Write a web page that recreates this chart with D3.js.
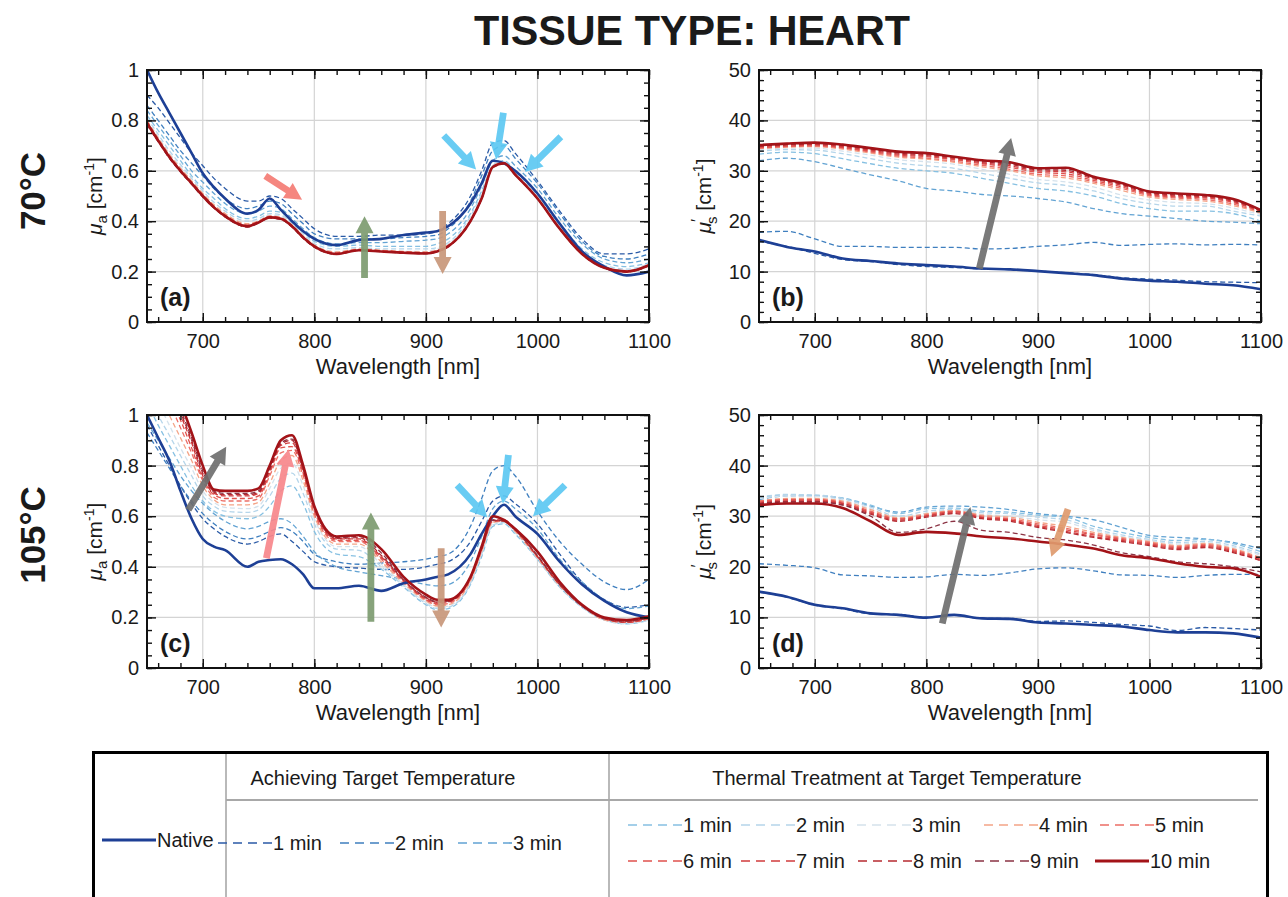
<!DOCTYPE html>
<html><head><meta charset="utf-8">
<script src="https://cdn.jsdelivr.net/npm/d3@7"></script>
<style>
body{margin:0;background:#fff;}
text{font-family:"Liberation Sans",Arial,Helvetica,sans-serif;fill:#1a1a1a;}
</style></head><body>
<script>
// ---------------- DATA ----------------
const wlAbs = [650,660,670,680,690,700,710,720,740,750,760,770,780,790,800,820,840,860,880,900,910,920,940,950,960,970,980,1000,1020,1040,1060,1080,1100];
const wlSca = [650,675,700,725,750,775,800,825,850,875,900,925,950,975,1000,1025,1050,1075,1100];
const xMajorTicks = [700,800,900,1000,1100];
const absTicks = [0,0.2,0.4,0.6,0.8,1];
const scaTicks = [0,10,20,30,40,50];
const seriesKeys = ["native","a1","a2","a3","t1","t2","t3","t4","t5","t6","t7","t8","t9","t10"];
const seriesColors = ["#1d3f95","#2a5aa6","#3f7fbf","#62a3d3","#86c0e2","#b5d5ea","#d5e2ec","#f4a487","#ec6e66","#e0524e","#d13b3d","#b62a31","#8b3344","#a31318"];
const legendAchieving = ["1 min","2 min","3 min"];
const legendThermal = ["1 min","2 min","3 min","4 min","5 min","6 min","7 min","8 min","9 min","10 min"];

// Panel (a) 70°C absorption  (rows follow seriesKeys)
const muA70 = [
 [1.00,0.91,0.83,0.75,0.67,0.59,0.535,0.49,0.43,0.445,0.49,0.445,0.40,0.36,0.33,0.305,0.325,0.33,0.345,0.355,0.36,0.38,0.47,0.55,0.64,0.63,0.60,0.51,0.39,0.28,0.22,0.185,0.20],
 [0.90,0.85,0.79,0.73,0.67,0.62,0.57,0.53,0.48,0.48,0.50,0.49,0.45,0.41,0.37,0.34,0.34,0.345,0.345,0.35,0.36,0.39,0.50,0.60,0.71,0.72,0.67,0.56,0.44,0.33,0.27,0.27,0.29],
 [0.86,0.80,0.74,0.68,0.63,0.58,0.53,0.49,0.45,0.46,0.48,0.47,0.43,0.39,0.35,0.33,0.33,0.33,0.335,0.34,0.345,0.37,0.48,0.58,0.68,0.70,0.65,0.55,0.43,0.32,0.26,0.25,0.27],
 [0.84,0.78,0.72,0.66,0.60,0.555,0.51,0.47,0.43,0.44,0.46,0.45,0.41,0.37,0.335,0.31,0.315,0.315,0.32,0.325,0.33,0.35,0.45,0.54,0.64,0.66,0.62,0.53,0.41,0.31,0.25,0.235,0.25],
 [0.82,0.76,0.70,0.64,0.58,0.53,0.49,0.45,0.41,0.42,0.44,0.435,0.40,0.36,0.32,0.30,0.305,0.30,0.30,0.30,0.31,0.33,0.43,0.52,0.62,0.64,0.60,0.51,0.39,0.29,0.235,0.22,0.235],
 [0.81,0.745,0.68,0.625,0.57,0.52,0.475,0.44,0.40,0.41,0.43,0.425,0.39,0.35,0.31,0.29,0.295,0.29,0.29,0.29,0.295,0.315,0.42,0.51,0.62,0.635,0.595,0.50,0.38,0.28,0.225,0.21,0.23],
 [0.80,0.735,0.67,0.615,0.56,0.51,0.465,0.43,0.39,0.40,0.425,0.42,0.385,0.345,0.305,0.28,0.29,0.285,0.28,0.28,0.29,0.31,0.41,0.50,0.62,0.635,0.59,0.495,0.375,0.275,0.22,0.205,0.228],
 [0.80,0.73,0.665,0.61,0.56,0.51,0.465,0.43,0.39,0.40,0.42,0.415,0.385,0.34,0.305,0.278,0.29,0.285,0.28,0.278,0.285,0.305,0.405,0.495,0.62,0.632,0.588,0.493,0.373,0.273,0.218,0.203,0.228],
 [0.795,0.725,0.66,0.605,0.555,0.505,0.46,0.425,0.385,0.40,0.42,0.413,0.383,0.338,0.303,0.275,0.288,0.283,0.278,0.276,0.283,0.303,0.403,0.493,0.618,0.63,0.587,0.492,0.372,0.272,0.217,0.202,0.227],
 [0.79,0.722,0.657,0.602,0.552,0.503,0.458,0.423,0.383,0.398,0.418,0.412,0.382,0.337,0.302,0.273,0.287,0.282,0.277,0.274,0.282,0.302,0.402,0.492,0.617,0.63,0.586,0.491,0.371,0.271,0.216,0.201,0.226],
 [0.788,0.72,0.655,0.60,0.55,0.50,0.456,0.42,0.38,0.396,0.416,0.41,0.38,0.335,0.30,0.271,0.286,0.281,0.276,0.273,0.281,0.301,0.401,0.49,0.616,0.63,0.585,0.49,0.37,0.27,0.215,0.20,0.225],
 [0.785,0.718,0.652,0.598,0.548,0.498,0.454,0.418,0.378,0.394,0.414,0.408,0.378,0.333,0.298,0.27,0.285,0.28,0.275,0.272,0.28,0.30,0.40,0.49,0.615,0.628,0.584,0.489,0.369,0.269,0.214,0.199,0.224],
 [0.783,0.716,0.65,0.596,0.546,0.496,0.452,0.417,0.377,0.393,0.413,0.407,0.377,0.332,0.297,0.269,0.284,0.279,0.274,0.271,0.279,0.299,0.399,0.489,0.614,0.628,0.584,0.489,0.369,0.269,0.214,0.199,0.224],
 [0.79,0.72,0.655,0.60,0.55,0.50,0.455,0.42,0.38,0.395,0.415,0.41,0.38,0.335,0.30,0.27,0.285,0.28,0.275,0.272,0.28,0.30,0.40,0.49,0.615,0.63,0.585,0.49,0.37,0.27,0.215,0.20,0.225]
];
// Panel (b) 70°C reduced scattering
const musB70 = [
 [16.3,14.9,14.0,12.6,12.1,11.6,11.3,11.0,10.6,10.45,10.1,9.7,9.3,8.6,8.2,8.0,7.6,7.3,6.5],
 [16.0,15.0,13.6,12.4,12.0,11.4,11.0,10.8,10.5,10.4,10.1,9.8,9.4,8.8,8.5,8.3,8.0,7.9,7.8],
 [17.8,18.0,16.5,15.0,15.0,14.8,14.8,14.8,14.5,14.6,15.0,15.3,15.8,15.2,15.4,15.5,15.3,15.4,15.3],
 [32.0,32.5,31.8,30.5,29.2,28.0,26.5,26.0,25.3,25.0,24.5,23.8,22.5,21.5,21.0,20.5,20.0,19.8,19.5],
 [33.3,33.7,33.4,32.4,31.4,30.5,30.0,29.5,28.5,27.5,26.5,26.0,25.0,23.5,22.5,22.0,22.0,21.5,20.0],
 [33.9,34.2,34.1,33.4,32.4,31.5,31.0,30.5,29.5,28.5,27.6,27.1,26.0,24.5,23.5,23.0,23.0,22.0,21.0],
 [34.2,34.5,34.5,33.9,33.1,32.2,31.8,31.3,30.3,29.3,28.3,27.8,26.8,25.2,24.2,23.7,23.5,22.6,21.3],
 [34.4,34.7,34.8,34.3,33.5,32.7,32.3,31.7,30.8,30.0,29.0,28.6,27.5,26.1,24.8,24.3,24.0,23.1,21.6],
 [34.5,34.8,34.9,34.5,33.7,32.9,32.5,31.9,31.1,30.3,29.3,29.0,27.8,26.5,25.1,24.6,24.3,23.4,21.8],
 [34.6,34.9,35.1,34.6,33.9,33.1,32.8,32.2,31.4,30.7,29.7,29.4,28.1,26.8,25.3,24.8,24.6,23.7,21.9],
 [34.8,35.1,35.2,34.8,34.1,33.3,33.0,32.4,31.6,31.0,30.0,29.8,28.4,27.1,25.5,25.0,24.8,23.9,22.0],
 [34.9,35.2,35.4,35.0,34.3,33.5,33.2,32.6,31.8,31.3,30.2,30.1,28.6,27.3,25.7,25.2,25.0,24.1,22.1],
 [35.0,35.3,35.5,35.1,34.4,33.7,33.4,32.7,32.0,31.5,30.4,30.4,28.7,27.5,25.8,25.4,25.1,24.3,22.1],
 [35.1,35.4,35.6,35.2,34.5,33.8,33.5,32.8,32.1,31.7,30.5,30.6,28.8,27.6,25.9,25.5,25.2,24.4,22.2]
];
// Panel (c) 105°C absorption
const muA105 = [
 [1.00,0.91,0.82,0.70,0.59,0.51,0.48,0.466,0.40,0.42,0.427,0.43,0.41,0.37,0.315,0.315,0.325,0.305,0.335,0.35,0.36,0.37,0.45,0.53,0.60,0.645,0.60,0.53,0.42,0.33,0.265,0.22,0.20],
 [0.96,0.88,0.80,0.72,0.65,0.59,0.55,0.52,0.49,0.50,0.52,0.53,0.50,0.46,0.42,0.40,0.395,0.39,0.39,0.40,0.41,0.42,0.50,0.58,0.66,0.68,0.65,0.57,0.45,0.34,0.27,0.24,0.25],
 [0.93,0.86,0.79,0.72,0.66,0.61,0.57,0.54,0.51,0.52,0.54,0.555,0.54,0.50,0.45,0.42,0.41,0.415,0.42,0.43,0.44,0.45,0.56,0.67,0.78,0.80,0.76,0.62,0.50,0.41,0.34,0.31,0.35],
 [0.97,0.90,0.83,0.76,0.70,0.65,0.61,0.58,0.55,0.56,0.58,0.59,0.57,0.52,0.46,0.40,0.38,0.365,0.35,0.33,0.325,0.33,0.42,0.52,0.63,0.66,0.63,0.55,0.43,0.34,0.27,0.235,0.245],
 [1.05,0.96,0.88,0.80,0.72,0.66,0.62,0.60,0.59,0.60,0.64,0.70,0.72,0.65,0.54,0.45,0.44,0.39,0.32,0.25,0.23,0.235,0.33,0.44,0.56,0.57,0.53,0.43,0.32,0.24,0.19,0.175,0.19],
 [1.10,1.00,0.92,0.84,0.76,0.68,0.64,0.62,0.615,0.625,0.68,0.75,0.77,0.69,0.57,0.47,0.465,0.40,0.325,0.255,0.235,0.24,0.335,0.45,0.565,0.575,0.535,0.43,0.32,0.24,0.19,0.175,0.19],
 [1.15,1.05,0.96,0.87,0.79,0.70,0.655,0.635,0.63,0.64,0.71,0.79,0.81,0.72,0.59,0.48,0.48,0.41,0.33,0.26,0.24,0.245,0.34,0.455,0.57,0.58,0.54,0.435,0.325,0.245,0.19,0.175,0.19],
 [1.20,1.10,1.00,0.91,0.82,0.72,0.665,0.645,0.645,0.655,0.73,0.82,0.84,0.74,0.60,0.49,0.49,0.42,0.335,0.265,0.245,0.25,0.345,0.46,0.575,0.58,0.54,0.435,0.325,0.245,0.19,0.18,0.195],
 [1.25,1.15,1.05,0.95,0.85,0.74,0.675,0.66,0.66,0.67,0.76,0.85,0.86,0.76,0.61,0.50,0.50,0.43,0.34,0.27,0.25,0.255,0.35,0.465,0.58,0.58,0.545,0.44,0.33,0.245,0.195,0.18,0.195],
 [1.28,1.18,1.08,0.98,0.87,0.75,0.685,0.67,0.67,0.68,0.77,0.87,0.875,0.77,0.62,0.505,0.505,0.435,0.345,0.27,0.255,0.26,0.355,0.47,0.58,0.585,0.545,0.44,0.33,0.245,0.195,0.18,0.195],
 [1.30,1.20,1.10,1.00,0.89,0.76,0.69,0.68,0.68,0.69,0.78,0.88,0.89,0.78,0.63,0.51,0.51,0.44,0.345,0.275,0.26,0.265,0.36,0.47,0.585,0.585,0.55,0.44,0.33,0.25,0.195,0.185,0.20],
 [1.31,1.21,1.11,1.01,0.90,0.77,0.695,0.685,0.685,0.695,0.785,0.885,0.90,0.785,0.632,0.512,0.515,0.445,0.348,0.278,0.26,0.262,0.358,0.472,0.583,0.582,0.548,0.442,0.33,0.245,0.195,0.182,0.20],
 [1.32,1.22,1.12,1.02,0.91,0.78,0.70,0.69,0.69,0.70,0.79,0.89,0.905,0.79,0.635,0.515,0.52,0.455,0.35,0.28,0.262,0.265,0.36,0.475,0.585,0.58,0.545,0.445,0.33,0.245,0.195,0.185,0.20],
 [1.35,1.25,1.15,1.05,0.93,0.80,0.705,0.70,0.70,0.71,0.80,0.90,0.92,0.80,0.64,0.52,0.525,0.47,0.36,0.29,0.27,0.27,0.36,0.48,0.60,0.585,0.55,0.46,0.34,0.25,0.20,0.19,0.205]
];
// Panel (d) 105°C reduced scattering
const musB105 = [
 [15.1,14.1,12.5,11.8,10.8,10.5,9.95,10.5,9.8,9.7,9.0,8.8,8.5,8.2,7.5,7.05,7.05,6.85,6.0],
 [15.0,14.0,12.4,11.7,10.7,10.6,10.0,10.4,9.8,9.8,9.2,9.3,9.0,8.6,8.3,7.4,8.0,7.8,7.5],
 [20.6,20.3,19.8,18.4,18.2,17.9,18.0,18.5,18.3,18.8,19.6,19.8,19.2,18.4,18.3,17.9,18.3,18.5,18.5],
 [33.3,34.0,34.0,33.5,32.0,30.8,31.8,32.0,31.8,31.3,30.5,30.0,29.3,27.8,26.2,25.8,25.5,24.8,23.6],
 [33.6,34.2,34.1,33.6,32.2,30.5,31.5,31.6,31.0,30.8,30.2,29.8,28.0,26.8,25.8,25.2,25.4,24.6,23.0],
 [33.8,34.3,34.2,33.5,31.8,30.0,31.0,31.3,30.7,30.5,29.8,29.3,27.5,26.3,25.4,24.8,25.0,24.2,22.5],
 [33.5,34.0,33.9,33.2,31.5,29.6,30.6,31.0,30.4,30.0,29.3,28.8,27.2,26.0,25.2,24.5,24.7,23.9,22.2],
 [33.0,33.5,33.5,33.0,31.3,29.7,30.5,31.1,30.2,29.8,28.8,28.0,26.8,25.8,25.0,24.2,24.6,23.6,21.8],
 [33.0,33.3,33.3,32.8,31.0,29.5,30.3,31.0,30.0,29.5,28.5,27.6,26.5,25.6,24.8,24.0,24.4,23.4,21.6],
 [32.8,33.2,33.2,32.6,30.8,29.4,30.1,30.9,29.8,29.3,28.2,27.3,26.3,25.4,24.6,23.8,24.2,23.2,21.5],
 [32.6,33.0,33.0,32.5,30.6,29.2,30.0,30.7,29.7,29.2,28.0,27.0,26.0,25.2,24.4,23.6,24.0,23.0,21.3],
 [32.5,32.9,32.9,32.3,30.4,29.0,29.8,30.5,29.5,29.0,27.8,26.8,25.8,25.0,24.2,23.4,23.8,22.8,21.2],
 [32.4,32.8,32.8,32.2,30.0,26.8,27.5,29.0,27.2,26.8,25.8,25.3,24.3,22.8,22.0,21.0,20.6,20.0,19.0],
 [32.2,32.5,32.5,31.6,29.0,26.3,26.9,26.6,26.0,25.6,25.0,24.4,23.6,22.3,21.7,20.7,20.0,19.7,18.0]
];
// Annotation arrows: [x1, y1, x2, y2, colour] in data units
const arrowColors = {salmon:"#f47c74", pink:"#f7878b", green:"#7d9b70", brown:"#c8977a", cyan:"#5cc8f2", gray:"#6f6f6f", orange:"#de9a6e"};
const arrowsA = [[756,0.58,789,0.485,"salmon"],[845,0.175,845,0.42,"green"],[915,0.44,915,0.19,"brown"],[916,0.74,945,0.605,"cyan"],[969.5,0.83,963,0.645,"cyan"],[1021,0.735,989,0.595,"cyan"]];
const arrowsB = [[847.5,10.6,876,36.5,"gray"]];
const arrowsC = [[687,0.625,721,0.875,"gray"],[757,0.434,777,0.865,"pink"],[850.7,0.183,850.7,0.615,"green"],[913.7,0.473,913.7,0.16,"brown"],[928,0.723,955,0.595,"cyan"],[974,0.842,969,0.65,"cyan"],[1024.7,0.723,996,0.6,"cyan"]];
const arrowsD = [[814.3,8.8,839.5,31.8,"gray"],[927,31.4,912,22.0,"orange"]];

// ---------------- DRAW ----------------
const W = 1288, H = 897;
const svg = d3.select("body").append("svg").attr("width", W).attr("height", H);

svg.append("text").attr("x", 692).attr("y", 45).attr("text-anchor","middle")
  .attr("textLength", 436).attr("lengthAdjust","spacingAndGlyphs")
  .style("font-size","42px").style("font-weight","bold").text("TISSUE TYPE: HEART");
[["70°C",191],["105°C",535]].forEach(([t,yc]) => {
  svg.append("text").attr("transform",`translate(45,${yc}) rotate(-90)`).attr("text-anchor","middle")
    .style("font-size","35px").style("font-weight","bold").text(t);
});

const panels = [
  {tag:"(a)", box:[147,70,649,322], ymax:1, yticks:absTicks, yminor:0.05, wl:wlAbs, data:muA70, arrows:arrowsA, kind:"a"},
  {tag:"(b)", box:[759,70,1261,322], ymax:50, yticks:scaTicks, yminor:2, wl:wlSca, data:musB70, arrows:arrowsB, kind:"s"},
  {tag:"(c)", box:[147,415,649,668], ymax:1, yticks:absTicks, yminor:0.05, wl:wlAbs, data:muA105, arrows:arrowsC, kind:"a"},
  {tag:"(d)", box:[759,415,1261,668], ymax:50, yticks:scaTicks, yminor:2, wl:wlSca, data:musB105, arrows:arrowsD, kind:"s"}
];

panels.forEach((p, pi) => {
  const [x0,y0,x1,y1] = p.box;
  const x = d3.scaleLinear().domain([650,1100]).range([x0,x1]);
  const y = d3.scaleLinear().domain([0,p.ymax]).range([y1,y0]);
  const g = svg.append("g");
  const clipId = "clip"+pi;
  svg.append("clipPath").attr("id",clipId).append("rect").attr("x",x0).attr("y",y0).attr("width",x1-x0).attr("height",y1-y0);

  // grid
  g.append("g").selectAll("line").data(xMajorTicks.slice(0,4)).join("line")
    .attr("x1",d=>x(d)).attr("x2",d=>x(d)).attr("y1",y0).attr("y2",y1)
    .attr("stroke","#d4d4d4").attr("stroke-width",1.2);
  g.append("g").selectAll("line").data(p.yticks.slice(1,-1)).join("line")
    .attr("y1",d=>y(d)).attr("y2",d=>y(d)).attr("x1",x0).attr("x2",x1)
    .attr("stroke","#d4d4d4").attr("stroke-width",1.2);

  // lines
  const lines = g.append("g").attr("clip-path",`url(#${clipId})`);
  const line = d3.line().x((d,i)=>x(p.wl[i])).y(d=>y(d)).curve(d3.curveMonotoneX);
  const order = [1,2,3,4,5,6,7,8,9,10,11,12,0,13];
  order.forEach(k => {
    const solid = (k===0 || k===13);
    lines.append("path").attr("d", line(p.data[k])).attr("fill","none")
      .attr("stroke", seriesColors[k]).attr("stroke-width", solid?2.6:1.3)
      .attr("stroke-dasharray", solid?null:"5,3").attr("stroke-linejoin","round");
  });

  // axes (inward ticks on all sides)
  const minorX = d3.range(660,1101,20);
  const minorY = d3.range(0,p.ymax+1e-9,p.yminor);
  const fmtY = d3.format("~g");
  const ax = (axis, tx, ty) => {
    const a = g.append("g").attr("transform",`translate(${tx},${ty})`).call(axis);
    a.select(".domain").remove();
    a.selectAll("line").attr("stroke","#111").attr("stroke-width",1.4);
    return a;
  };
  ax(d3.axisBottom(x).tickValues(minorX).tickSize(-5).tickFormat(""),0,y1);
  ax(d3.axisTop(x).tickValues(minorX).tickSize(-5).tickFormat(""),0,y0);
  const xb = ax(d3.axisBottom(x).tickValues(xMajorTicks).tickSize(-9).tickPadding(12).tickFormat(d3.format("d")),0,y1);
  xb.selectAll("text").style("font-size","20px").attr("fill","#1a1a1a");
  ax(d3.axisTop(x).tickValues(xMajorTicks).tickSize(-9).tickFormat(""),0,y0);
  ax(d3.axisLeft(y).tickValues(minorY).tickSize(-5).tickFormat(""),x0,0);
  ax(d3.axisRight(y).tickValues(minorY).tickSize(-5).tickFormat(""),x1,0);
  const yl = ax(d3.axisLeft(y).tickValues(p.yticks).tickSize(-9).tickPadding(8).tickFormat(fmtY),x0,0);
  yl.selectAll("text").style("font-size","20px").attr("fill","#1a1a1a");
  ax(d3.axisRight(y).tickValues(p.yticks).tickSize(-9).tickFormat(""),x1,0);

  g.append("rect").attr("x",x0).attr("y",y0).attr("width",x1-x0).attr("height",y1-y0)
    .attr("fill","none").attr("stroke","#111").attr("stroke-width",2);

  // axis titles
  g.append("text").attr("x",(x0+x1)/2).attr("y",y1+52).attr("text-anchor","middle")
    .style("font-size","22px").text("Wavelength [nm]");
  const tx = p.kind==="a" ? x0-45 : x0-48;
  const t = g.append("text").attr("transform",`translate(${tx},${(y0+y1)/2}) rotate(-90)`)
    .attr("text-anchor","middle").style("font-size","21px");
  t.append("tspan").style("font-style","italic").text("μ");
  if (p.kind==="a") {
    t.append("tspan").attr("dy",5).style("font-size","15px").text("a");
    t.append("tspan").attr("dy",-5).text(" [cm");
  } else {
    t.append("tspan").attr("dy",-8).style("font-size","16px").text("′");
    t.append("tspan").attr("dx",-5).attr("dy",14).style("font-size","15px").text("s");
    t.append("tspan").attr("dy",-6).text(" [cm");
  }
  t.append("tspan").attr("dy",-8).style("font-size","14px").text("-1");
  t.append("tspan").attr("dy",8).text("]");

  g.append("text").attr("x",x0+13).attr("y",y1-16).style("font-size","25px").style("font-weight","bold").text(p.tag);

  // arrows
  p.arrows.forEach(a => {
    const X1=x(a[0]), Y1=y(a[1]), X2=x(a[2]), Y2=y(a[3]);
    const dx=X2-X1, dy=Y2-Y1, L=Math.hypot(dx,dy), ux=dx/L, uy=dy/L, px=-uy, py=ux;
    const hl=17, hw=9, sw=3.4;
    const bx=X2-ux*hl, by=Y2-uy*hl;
    const pts=[[X1+px*sw,Y1+py*sw],[bx+px*sw,by+py*sw],[bx+px*hw,by+py*hw],[X2,Y2],[bx-px*hw,by-py*hw],[bx-px*sw,by-py*sw],[X1-px*sw,Y1-py*sw]];
    g.append("polygon").attr("points",pts.map(q=>q.join(",")).join(" "))
      .attr("fill",arrowColors[a[4]]).attr("opacity",0.92);
  });
});

// ---------------- LEGEND ----------------
const lg = svg.append("g");
lg.append("rect").attr("x",93.5).attr("y",752.5).attr("width",1174).attr("height",170)
  .attr("fill","none").attr("stroke","#000").attr("stroke-width",3);
lg.append("line").attr("x1",226).attr("x2",226).attr("y1",754).attr("y2",897).attr("stroke","#8a8a8a").attr("stroke-width",1.2);
lg.append("line").attr("x1",609).attr("x2",609).attr("y1",754).attr("y2",897).attr("stroke","#8a8a8a").attr("stroke-width",1.2);
lg.append("line").attr("x1",226).attr("x2",1258).attr("y1",800).attr("y2",800).attr("stroke","#a8a8a8").attr("stroke-width",2);
lg.append("text").attr("x",383).attr("y",785).attr("text-anchor","middle").style("font-size","20px").text("Achieving Target Temperature");
lg.append("text").attr("x",897).attr("y",785).attr("text-anchor","middle").style("font-size","20px").text("Thermal Treatment at Target Temperature");

function legendItem(xs, yc, key, label){
  const solid = (key===0 || key===13);
  lg.append("line").attr("x1",xs).attr("x2",xs+54).attr("y1",yc).attr("y2",yc)
    .attr("stroke",seriesColors[key]).attr("stroke-width",solid?3:1.7).attr("stroke-dasharray",solid?null:"9,6");
  lg.append("text").attr("x",xs+55).attr("y",yc+7).style("font-size","20px").text(label);
}
legendItem(102, 840, 0, "Native");
[218,340,458].forEach((xs,i)=>legendItem(xs, 843, 1+i, legendAchieving[i]));
[628,741,857,984,1100].forEach((xs,i)=>legendItem(xs, 825, 4+i, legendThermal[i]));
[628,741,858,975,1095].forEach((xs,i)=>legendItem(xs, 861, 9+i, legendThermal[5+i]));
</script>
</body></html>
